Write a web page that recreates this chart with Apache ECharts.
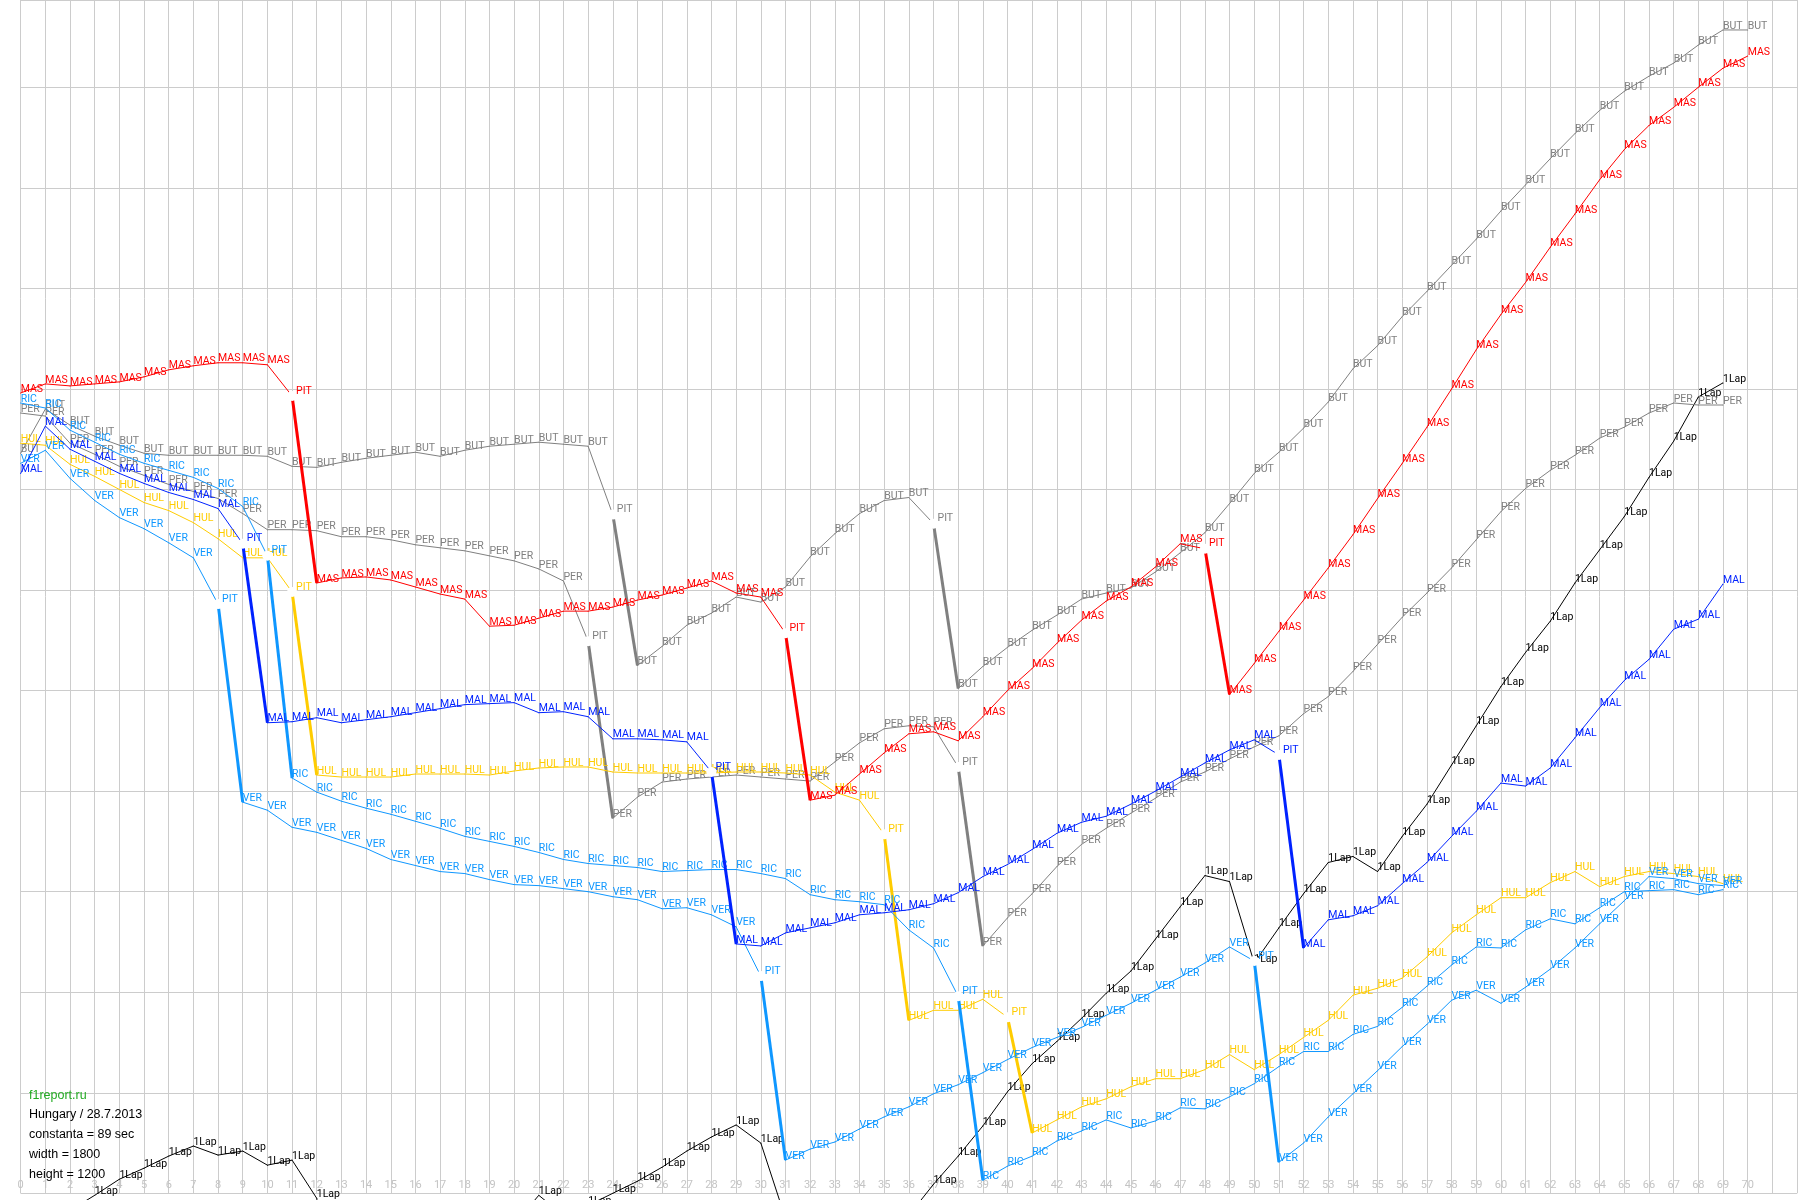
<!DOCTYPE html>
<html><head><meta charset="utf-8">
<script src="https://cdn.jsdelivr.net/npm/echarts@6/dist/echarts.min.js"></script>
<style>html,body{margin:0;padding:0;background:#fff}#c{width:1800px;height:1200px}</style>
</head><body><div id="c"></div>
<script>
// gap (seconds) per lap, lap index = array index
const MAS = [79.6,80.5,80.3,80.5,80.7,81.2,81.9,82.3,82.6,82.6,82.4,79.3,60.7,61.2,61.3,61.0,60.3,59.6,59.1,56.4,56.5,57.2,57.9,57.9,58.3,59.0,59.5,60.2,60.9,59.7,59.3,55.7,39.1,39.6,41.7,43.8,45.7,45.9,45.0,47.4,50.0,52.2,54.7,57.0,58.9,60.3,62.3,64.6,64.1,49.6,52.7,55.9,59.0,62.2,65.5,69.1,72.6,76.2,80.0,83.9,87.4,90.6,94.1,97.4,100.8,103.8,106.2,108.0,110.0,111.9,113.1];
const BUT = [73.6,78.0,76.4,75.3,74.4,73.6,73.4,73.4,73.4,73.4,73.3,72.3,72.2,72.7,73.1,73.4,73.7,73.3,73.9,74.3,74.5,74.7,74.5,74.3,67.5,52.5,54.4,56.5,57.7,59.3,58.8,60.3,63.3,65.6,67.6,68.9,69.2,66.6,50.2,52.4,54.3,56.0,57.5,59.1,59.7,60.2,61.8,63.7,65.7,68.6,71.6,73.7,76.1,78.7,82.0,84.3,87.2,89.7,92.3,94.9,97.7,100.3,102.9,105.4,107.7,109.6,111.1,112.4,114.2,115.7,115.7];
const PER = [77.6,77.3,74.6,73.5,72.3,71.4,70.5,69.8,69.1,67.6,66.0,66.0,65.9,65.3,65.3,65.0,64.5,64.2,63.9,63.4,62.9,62.1,60.9,54.9,37.3,39.4,40.9,41.2,41.4,41.6,41.4,41.2,41.0,42.9,44.8,46.2,46.5,46.4,42.4,24.6,27.4,29.8,32.5,34.7,36.3,37.8,39.3,40.9,41.9,43.2,44.4,45.5,47.7,49.4,51.9,54.6,57.3,59.7,62.2,65.0,67.8,70.1,71.9,73.4,75.1,76.2,77.6,78.6,78.4,78.4];
const RIC = [78.6,78.1,75.9,74.7,73.5,72.6,71.9,71.2,70.1,68.3,63.4,41.3,39.9,39.0,38.3,37.7,37.0,36.3,35.5,35.0,34.5,33.9,33.2,32.8,32.6,32.4,32.0,32.1,32.2,32.2,31.8,31.3,29.7,29.2,29.0,28.7,26.2,24.4,19.6,1.3,2.7,3.7,5.2,6.2,7.3,6.5,7.2,8.5,8.4,9.6,10.9,12.6,14.1,14.1,15.8,16.6,18.5,20.6,22.7,24.5,24.4,26.2,27.3,26.8,28.4,30.0,30.1,30.2,29.7,30.2];
const MAL = [71.6,76.3,74.0,72.8,71.6,70.6,69.7,69.0,68.1,64.6,46.8,46.9,47.3,46.8,47.1,47.4,47.8,48.2,48.6,48.7,48.8,47.8,47.9,47.4,45.2,45.2,45.1,44.9,41.9,24.8,24.6,25.9,26.4,26.9,27.7,27.9,28.2,28.8,29.9,31.5,32.7,34.2,35.8,36.9,37.5,38.7,40.0,41.4,42.8,44.1,45.1,43.6,24.4,27.2,27.6,28.6,30.8,32.9,35.5,38.0,40.8,40.5,42.3,45.3,48.3,51.0,53.1,56.1,57.1,60.6];
const HUL = [74.6,74.4,72.5,71.3,70.0,68.7,67.9,66.7,65.1,63.2,63.2,59.8,41.6,41.4,41.4,41.4,41.7,41.7,41.7,41.6,42.0,42.3,42.4,42.4,41.9,41.8,41.8,41.8,41.8,41.9,41.9,41.8,41.6,39.9,39.1,35.7,17.2,18.2,18.2,19.3,17.5,6.0,7.3,8.6,9.4,10.6,11.4,11.4,12.3,13.8,12.3,13.8,15.5,17.2,19.7,20.4,21.4,23.5,25.9,27.7,29.4,29.4,30.9,32.0,30.5,31.5,32.0,31.8,31.5,30.8];
const VER = [72.6,73.9,71.1,68.9,67.2,66.1,64.7,63.2,58.6,38.9,38.1,36.4,35.9,35.1,34.3,33.2,32.6,32.0,31.8,31.2,30.7,30.6,30.3,30.0,29.5,29.2,28.3,28.4,27.7,26.5,21.6,3.3,4.4,5.1,6.4,7.6,8.6,9.9,10.8,12.0,13.3,14.5,15.5,16.5,17.7,18.9,20.2,21.5,22.9,24.5,23.1,3.1,5.0,7.6,9.9,12.2,14.6,16.8,19.2,20.2,18.9,20.5,22.3,24.4,26.8,29.1,31.5,31.3,30.8,30.6];
const LAP1 = [-6.6,-4.2,-1.7,-0.2,1.4,2.5,3.7,4.7,3.8,4.2,2.8,3.3,-0.5,-20.6,-19.1,-17.1,-15.1,-12.6,-9.6,-6.6,-3.1,-0.2,-2.2,-1.2,0.0,1.2,2.6,4.2,5.6,6.8,5.0,-2.5,-6.0,-5.0,-4.0,-3.5,-2.2,0.9,3.7,6.7,10.1,12.9,15.1,17.4,19.9,22.1,25.3,28.5,31.6,31.0,22.9,26.4,29.8,32.9,33.5,32.0,35.5,38.7,42.6,46.5,50.4,53.8,56.9,60.7,64.0,67.3,71.2,74.8,79.2,80.6];

// pit-stop laps
const MAS_PIT = [11,31,48];
const BUT_PIT = [24,37];
const PER_PIT = [23,38];
const RIC_PIT = [10,38];
const MAL_PIT = [9,28,51];
const HUL_PIT = [11,35,40];
const VER_PIT = [8,30,50];

const LAST_LAP = 70;
const INFO = ['Hungary / 28.7.2013','constanta = 89 sec','width = 1800','height = 1200'];

const FONT = "Roboto, 'DejaVu Sans', sans-serif";
const DRIVERS = [
  {code:'1Lap', data:LAP1, pits:[], color:'#000000'},
  {code:'BUT', data:BUT, pits:BUT_PIT, color:'#808080'},
  {code:'PER', data:PER, pits:PER_PIT, color:'#808080'},
  {code:'HUL', data:HUL, pits:HUL_PIT, color:'#ffcc00'},
  {code:'VER', data:VER, pits:VER_PIT, color:'#0f97ff'},
  {code:'RIC', data:RIC, pits:RIC_PIT, color:'#0f97ff'},
  {code:'MAL', data:MAL, pits:MAL_PIT, color:'#0022ff'},
  {code:'MAS', data:MAS, pits:MAS_PIT, color:'#ff0000'}
];

const series = [];
DRIVERS.forEach((d, k) => {
  d.pits.forEach(p => {
    series.push({
      type:'line', silent:true, animation:false, clip:false, symbol:'none', z:2+k,
      lineStyle:{width:3, color:d.color},
      data:[[p, d.data[p]], [p+1, d.data[p+1]]]
    });
  });
  series.push({
    type:'line', name:d.code, silent:true, animation:false, clip:false, z:2+k,
    symbol:'circle', symbolSize:1, showSymbol:true, showAllSymbol:true,
    lineStyle:{width:1, color:d.color},
    itemStyle:{color:d.color},
    label:{show:true, formatter:d.code, position:[0.5,2], align:'left', verticalAlign:'bottom',
           color:d.color, fontSize:10.5, fontFamily:FONT},
    emphasis:{disabled:true},
    data:d.data.map((v, i) => d.pits.includes(i)
      ? {value:[i, v], symbol:'emptyCircle', symbolSize:8,
         itemStyle:{color:'#ffffff', borderColor:d.color, borderWidth:1},
         label:{formatter:'PIT', position:[9,5.5]}}
      : [i, v])
  });
});

const graphic = [{type:'text', left:29, top:1089, silent:true, z:100,
  style:{text:'f1report.ru', fill:'#22aa22', font:"12.5px 'Liberation Sans', sans-serif"}}];
INFO.forEach((t, i) => graphic.push({type:'text', left:29, top:1108.5 + i*19.7, silent:true, z:100,
  style:{text:t, fill:'#000000', font:"12.5px 'Liberation Sans', sans-serif"}}));

const chart = echarts.init(document.getElementById('c'), null, {renderer:'canvas'});
chart.setOption({
  animation:false,
  backgroundColor:'#ffffff',
  grid:{left:20.7, right:0, top:0, bottom:6.7, containLabel:false},
  xAxis:{type:'value', min:0, max:72, interval:1,
    axisLine:{show:false}, axisTick:{show:false},
    axisLabel:{inside:true, margin:3, color:'#c4c4c4', fontSize:11, fontFamily:FONT,
      formatter:v => (v <= LAST_LAP ? String(v) : '')},
    splitLine:{show:true, lineStyle:{color:'#cccccc', width:1}}},
  yAxis:{type:'value', min:0, max:118.68, interval:10,
    axisLine:{show:false}, axisTick:{show:false}, axisLabel:{show:false},
    splitLine:{show:true, lineStyle:{color:'#cccccc', width:1}}},
  graphic:graphic,
  series:series
});
</script></body></html>
